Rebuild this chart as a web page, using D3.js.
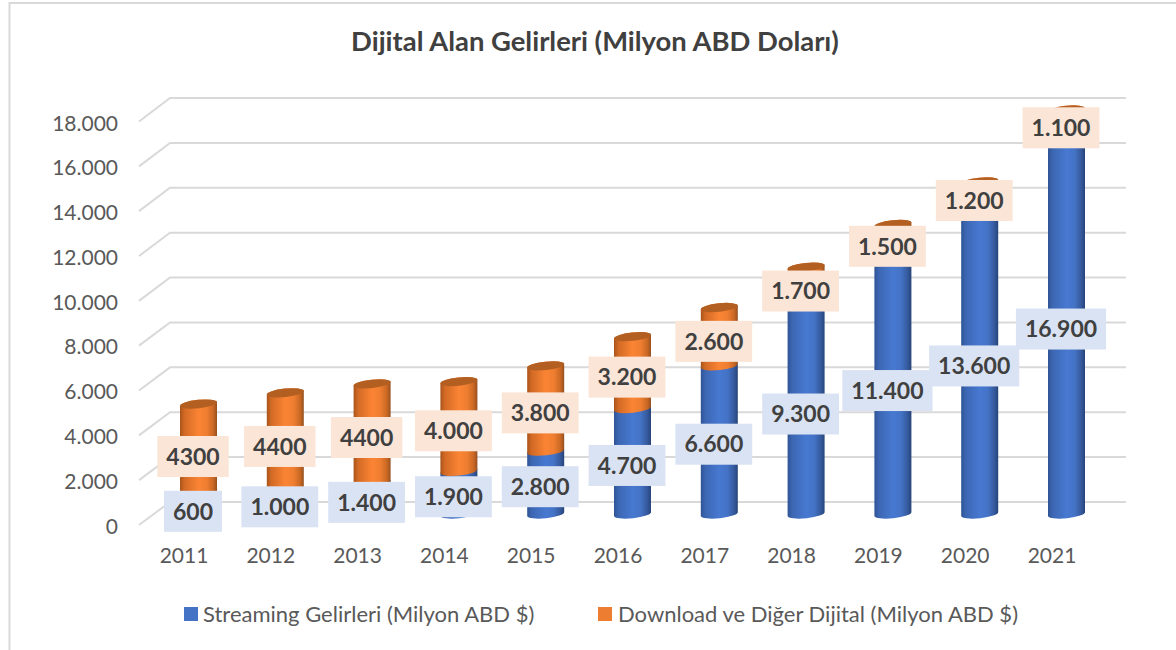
<!DOCTYPE html>
<html><head><meta charset="utf-8">
<style>html,body{margin:0;padding:0;background:#fff;overflow:hidden}svg{display:block;font-family:Lato,sans-serif}</style>
<script src="https://cdn.jsdelivr.net/npm/d3@7/dist/d3.min.js"></script></head>
<body><svg id="c" width="1176" height="650"></svg>
<script>
const title = "Dijital Alan Gelirleri (Milyon ABD Doları)";
const years = [2011,2012,2013,2014,2015,2016,2017,2018,2019,2020,2021];
const streaming = [600,1000,1400,1900,2800,4700,6600,9300,11400,13600,16900];
const download = [4300,4400,4400,4000,3800,3200,2600,1700,1500,1200,1100];
const streamingLabels = ["600","1.000","1.400","1.900","2.800","4.700","6.600","9.300","11.400","13.600","16.900"];
const downloadLabels = ["4300","4400","4400","4.000","3.800","3.200","2.600","1.700","1.500","1.200","1.100"];
const ticks = [0,2000,4000,6000,8000,10000,12000,14000,16000,18000];
const seriesNames = ["Streaming Gelirleri (Milyon ABD $)","Download ve Diğer Dijital (Milyon ABD $)"];

const svg = d3.select("#c");
const x = d3.scalePoint().domain(years).range([198.5,1066.5]);
const yBar = d3.scaleLinear().domain([0,18000]).range([514,110]);
const yDataLabel = d3.scaleLinear().domain([0,18000]).range([518,115.5]);
const yBack = d3.scaleLinear().domain([0,18000]).range([502,98]);
const yFront = d3.scaleLinear().domain([0,18000]).range([525,121.5]);
const yLab = d3.scaleLinear().domain([0,18000]).range([526,123]);
const fmt = d3.formatLocale({decimal:",",thousands:".",grouping:[3],currency:["","$"]}).format(",d");

const defs = svg.append("defs");
function grad(id,stops){
  const g = defs.append("linearGradient").attr("id",id).attr("x1",0).attr("x2",1).attr("y1",0).attr("y2",0);
  stops.forEach(s=>g.append("stop").attr("offset",s[0]).attr("stop-color",s[1]));
}
grad("gb",[[0,"#2f5495"],[0.12,"#3c66b2"],[0.5,"#4779d1"],[0.72,"#4473c6"],[0.9,"#35599c"],[1,"#264478"]]);
grad("go",[[0,"#a9541a"],[0.12,"#d26a25"],[0.5,"#fb8434"],[0.72,"#ef7e31"],[0.9,"#c96824"],[1,"#96501f"]]);

// chart frame
svg.append("path").attr("d","M1176,3H9.5V650").attr("fill","none").attr("stroke","#d9d9d9").attr("stroke-width",2);

// title
svg.append("text").attr("x",595).attr("y",50.5).attr("text-anchor","middle")
  .attr("font-size",27.4).attr("font-weight",700).attr("fill","#404040").text(title);

// gridlines
svg.append("g").selectAll("path").data(ticks).join("path")
  .attr("d",t=>`M139,${yFront(t)}L170,${yBack(t)}H1126`)
  .attr("fill","none").attr("stroke","#d9d9d9").attr("stroke-width",2);

// axis labels
svg.append("g").selectAll("text").data(ticks).join("text")
  .attr("x",118).attr("y",t=>yLab(t)).attr("dy","0.36em").attr("text-anchor","end")
  .attr("font-size",21).attr("fill","#595959").text(t=>fmt(t));
svg.append("g").selectAll("text").data(years).join("text")
  .attr("x",d=>x(d)-14.5).attr("y",555).attr("dy","0.36em").attr("text-anchor","middle")
  .attr("font-size",21).attr("fill","#595959").text(d=>d);

// cylinders
const rx=18.5, ry=4.2, rot=-6, tilt=2;
function seg(cx,yb,yt){
  const l=cx-rx, r=cx+rx;
  return `M${l},${yt+tilt}L${l},${yb+tilt}A${rx},${ry} ${rot} 0 0 ${r},${yb-tilt}L${r},${yt-tilt}A${rx},${ry} ${rot} 0 0 ${l},${yt+tilt}Z`;
}
function cap(cx,yc){
  const l=cx-rx, r=cx+rx;
  return `M${l},${yc+tilt}A${rx},${ry} ${rot} 0 1 ${r},${yc-tilt}A${rx},${ry} ${rot} 0 1 ${l},${yc+tilt}Z`;
}
const bars = svg.append("g").selectAll("g").data(years).join("g");
bars.append("path").attr("fill","url(#gb)")
  .attr("d",(d,i)=>seg(x(d),yBar(0),yBar(streaming[i])));
bars.append("path").attr("fill","url(#go)")
  .attr("d",(d,i)=>seg(x(d),yBar(streaming[i]),yBar(streaming[i]+download[i])));
bars.append("path").attr("fill","#b45f22")
  .attr("d",(d,i)=>cap(x(d),yBar(streaming[i]+download[i])));

// data labels
function addLabels(mid,labels,fill){
  const g = svg.append("g").selectAll("g").data(years).join("g")
    .attr("transform",(d,i)=>`translate(${x(d)-5.5},${yDataLabel(mid(i))})`);
  const rects = g.append("rect").attr("fill",fill);
  const txt = g.append("text").attr("text-anchor","middle").attr("dy","0.36em")
    .attr("font-size",23).attr("font-weight",700).attr("fill","#404040")
    .text((d,i)=>labels[i]);
  txt.each(function(d,i){
    const w=this.getComputedTextLength()+18;
    d3.select(rects.nodes()[i]).attr("x",-w/2).attr("y",-20.5).attr("width",w).attr("height",41);
  });
}
addLabels(i=>streaming[i]/2,streamingLabels,"#dae3f3");
addLabels(i=>streaming[i]+download[i]/2,downloadLabels,"#fbe5d6");

// legend
const leg = svg.append("g");
[[184,203,"#4472c4"],[598,618,"#ed7d31"]].forEach((p,i)=>{
  leg.append("rect").attr("x",p[0]).attr("y",607).attr("width",14).attr("height",14).attr("fill",p[2]);
  leg.append("text").attr("x",p[1]).attr("y",614).attr("dy","0.36em")
    .attr("font-size",22).attr("fill","#595959").text(seriesNames[i]);
});
</script></body></html>
